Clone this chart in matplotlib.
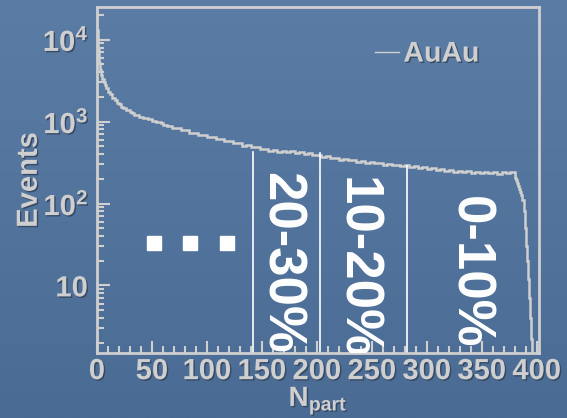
import numpy as np
import matplotlib
matplotlib.use("Agg")
import matplotlib.pyplot as plt
import matplotlib.patheffects as pe
from matplotlib.ticker import MultipleLocator, LogLocator, FixedLocator, NullFormatter

plt.rcParams['font.family'] = ['Liberation Sans', 'DejaVu Sans']
plt.rcParams['mathtext.fontset'] = 'custom'
plt.rcParams['mathtext.rm'] = 'Liberation Sans'
plt.rcParams['mathtext.bf'] = 'Liberation Sans:bold'

# histogram: unit bins 0-8, 2-wide 8-60, 4-wide 60-380, unit bins 380-400
edges = np.concatenate([np.arange(0, 8), np.arange(8, 60, 2),
                        np.arange(60, 380, 4), np.arange(380, 401)])
head_counts = [13000, 7500, 5200, 4300, 3700, 3300, 3000, 2800]
steep_counts = [2560, 2280, 2140, 1930, 1850, 1700, 1630, 1500, 1480, 1380,
                1370, 1290, 1280, 1200, 1210, 1140, 1145, 1100, 1105, 1060,
                1065, 1020, 1025, 985, 990, 950]
mid_counts = [915, 895, 835, 830, 780, 785, 730,
              725, 680, 685, 645, 650, 615, 615, 575, 575, 540,
              545, 510, 515, 485, 490, 462, 466, 442, 452, 430,
              440, 420, 432, 412, 421, 402, 412, 392, 396, 374,
              376, 356, 362, 344, 352, 336, 342, 324, 332, 316,
              322, 308, 313, 299, 306, 293, 299, 285, 291, 279,
              286, 272, 278, 265, 270, 255, 261, 248, 256, 244,
              252, 241, 249, 238, 245, 235, 243, 233, 241, 232,
              240, 236, 242]
tail_counts = [205, 195, 180, 162, 150, 140, 128, 110, 80, 50,
               30, 20, 12, 7, 4, 2.2, 0, 0, 0, 0]
counts = np.array(head_counts + steep_counts + mid_counts + tail_counts, dtype=float)

cut_x = [141.5, 203, 282]
cut_top = [430, 416, 283]
cut_labels = ['20-30%', '10-20%', '0-10%']
label_x = [167, 236, 339]
label_top = [240, 212, 122]
dot_x = [52, 85, 118]
dot_y = [33, 33, 33]

gray = '#cfcfcf'
shadow = [pe.withSimplePatchShadow(offset=(1, -1), shadow_rgbFace='#34465e', alpha=0.9)]

fig = plt.figure(figsize=(5.67, 4.18), dpi=100)
# slide background
bg = fig.add_axes([0, 0, 1, 1])
grad = np.linspace(0, 1, 256)[:, None]
bg.imshow(grad, aspect='auto', extent=[0, 1, 0, 1],
          cmap=matplotlib.colors.LinearSegmentedColormap.from_list('bg', ['#5b7da5', '#4a6b94']))
bg.axis('off')

ax = fig.add_axes([0.171, 0.1555, 0.7795, 0.8278])
ax.patch.set_alpha(0)
ax.set_yscale('log')
ax.stairs(counts, edges, baseline=None, color=gray, lw=1.8, label='AuAu')

for x, top in zip(cut_x, cut_top):
    ax.plot([x, x], [1.0, top], color='white', lw=1.2)
for x, top, t in zip(label_x, label_top, cut_labels):
    ax.text(x, top, t, rotation=-90, ha='center', va='top', color='white',
            fontsize=38, fontweight='bold', clip_on=True)
ax.plot(dot_x, dot_y, 's', color='white', markersize=10.5, ls='none')

ax.set_xlim(0, 402)
ax.set_ylim(1.5, 2.5e4)

for s in ax.spines.values():
    s.set_color(gray)
    s.set_linewidth(2)

ax.xaxis.set_major_locator(MultipleLocator(50))
ax.xaxis.set_minor_locator(MultipleLocator(10))
ax.yaxis.set_major_locator(FixedLocator([10, 100, 1000, 10000]))
ax.yaxis.set_minor_locator(LogLocator(base=10, subs=np.arange(2, 10)))
ax.yaxis.set_minor_formatter(NullFormatter())
ax.set_yticklabels([r'$\mathbf{10}$', r'$\mathbf{10^{2}}$', r'$\mathbf{10^{3}}$', r'$\mathbf{10^{4}}$'])
ax.tick_params(which='both', direction='in', colors=gray, width=1.5, labelsize=21)
ax.tick_params(which='major', length=9)
ax.tick_params(which='minor', length=5)
ax.tick_params(axis='y', pad=6)
ax.tick_params(axis='x', pad=3)
for lab in ax.get_xticklabels() + ax.get_yticklabels():
    lab.set_fontweight('bold')
    lab.set_path_effects(shadow)

ax.set_xlabel(r'$\mathbf{N}_{\mathbf{part}}$', color=gray, fontsize=20, labelpad=0,
              path_effects=shadow)
ax.set_ylabel('Events', color=gray, fontsize=21, fontweight='bold', labelpad=0,
              path_effects=shadow)

leg = ax.legend(loc='upper left', bbox_to_anchor=(0.629, 0.9), frameon=False,
                handlelength=0.85, handletextpad=0.15, borderpad=0, borderaxespad=0,
                prop={'size': 20.5, 'weight': 'bold'})
for t in leg.get_texts():
    t.set_color(gray)
    t.set_path_effects(shadow)
for h in leg.legend_handles:
    h.set_linewidth(1)

fig.savefig('out.png', dpi=100)
